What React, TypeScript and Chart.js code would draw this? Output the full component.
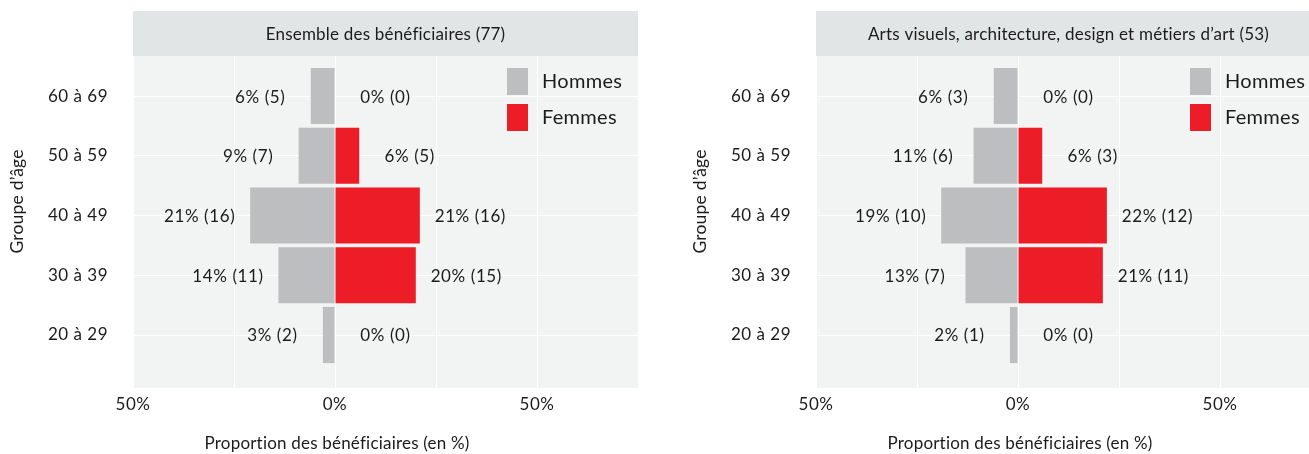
import React, { useEffect, useRef } from "react";
import { Chart, registerables } from "chart.js";

Chart.register(...registerables);

// ---------- data ----------
const ageGroups = ["60 à 69", "50 à 59", "40 à 49", "30 à 39", "20 à 29"];
const seriesNames = ["Hommes", "Femmes"];

const panel1Title = "Ensemble des bénéficiaires (77)";
const panel1HommesPct = [6, 9, 21, 14, 3];
const panel1HommesCount = [5, 7, 16, 11, 2];
const panel1FemmesPct = [0, 6, 21, 20, 0];
const panel1FemmesCount = [0, 5, 16, 15, 0];

const panel2Title = "Arts visuels, architecture, design et métiers d’art (53)";
const panel2HommesPct = [6, 11, 19, 13, 2];
const panel2HommesCount = [3, 6, 10, 7, 1];
const panel2FemmesPct = [0, 6, 22, 21, 0];
const panel2FemmesCount = [0, 3, 12, 11, 0];

const xLabeledTicks = [-50, 0, 50];
const xTitle = "Proportion des bénéficiaires (en %)";
const yTitle = "Groupe d’âge";

// ---------- style ----------
const FONT = "Lato, 'DejaVu Sans', sans-serif";
const TEXT = "#1b1b1b";
const PANEL_BG = "#F2F3F3";
const STRIP_BG = "#E2E5E5";
const GREY = "#BDBEC0";
const RED = "#EC1D27";
const COLORS = [GREY, RED];

type PanelProps = {
  title: string;
  hPct: number[];
  hCnt: number[];
  fPct: number[];
  fCnt: number[];
  left: number;
};

function Pyramid({ title, hPct, hCnt, fPct, fCnt, left }: PanelProps) {
  const ref = useRef<HTMLCanvasElement>(null);

  useEffect(() => {
    if (!ref.current) return;
    const n = ageGroups.length;
    const pos = (i: number) => n - i;
    const STRIP_TOP = 11;
    const LABEL_NUDGE = 12.5;

    const decor = {
      id: "decor",
      beforeDraw(chart: any) {
        const { ctx, chartArea: a } = chart;
        ctx.save();
        ctx.fillStyle = "#ffffff";
        ctx.fillRect(0, 0, chart.width, chart.height);
        ctx.fillStyle = PANEL_BG;
        ctx.fillRect(a.left, a.top, a.right - a.left, a.bottom - a.top);
        ctx.fillStyle = STRIP_BG;
        ctx.fillRect(a.left, STRIP_TOP, a.right - a.left, a.top - STRIP_TOP);
        ctx.fillStyle = TEXT;
        ctx.font = `17px ${FONT}`;
        ctx.letterSpacing = "0.2px";
        ctx.textAlign = "center";
        ctx.textBaseline = "middle";
        ctx.fillText(title, (a.left + a.right) / 2, (STRIP_TOP + a.top) / 2 + 1);
        ctx.restore();
        // slightly wider text for the axis tick labels drawn next
        ctx.letterSpacing = "0.5px";
      },
      afterDatasetsDraw(chart: any) {
        const { ctx } = chart;
        const xs = chart.scales.x;
        const ys = chart.scales.y;
        ctx.save();
        ctx.fillStyle = TEXT;
        ctx.font = `17px ${FONT}`;
        ctx.letterSpacing = "0.6px";
        ctx.textAlign = "center";
        ctx.textBaseline = "middle";
        const groups = [
          { pct: hPct, cnt: hCnt, sign: -1 },
          { pct: fPct, cnt: fCnt, sign: 1 },
        ];
        groups.forEach((g) => {
          g.pct.forEach((p, i) => {
            const x = xs.getPixelForValue(g.sign * (p + LABEL_NUDGE));
            const y = ys.getPixelForValue(pos(i));
            ctx.fillText(`${p}% (${g.cnt[i]})`, x, y + 1);
          });
        });
        ctx.restore();
      },
      afterDraw(chart: any) {
        const { ctx, chartArea: a } = chart;
        const xs = chart.scales.x;
        ctx.save();
        // legend
        const gx = xs.getPixelForValue(50);
        seriesNames.forEach((name, k) => {
          const top = a.top + 12 + k * 36;
          ctx.fillStyle = COLORS[k];
          ctx.fillRect(gx - 30, top, 21, 27);
          ctx.fillStyle = TEXT;
          ctx.font = `20px ${FONT}`;
          ctx.letterSpacing = "0.3px";
          ctx.textAlign = "left";
          ctx.textBaseline = "middle";
          ctx.fillText(name, gx + 5, top + 13.5);
        });
        // x title
        ctx.font = `17px ${FONT}`;
        ctx.letterSpacing = "0.2px";
        ctx.textAlign = "center";
        ctx.textBaseline = "middle";
        ctx.fillText(xTitle, xs.getPixelForValue(0) + 2, 444);
        // y title
        ctx.translate(17, (STRIP_TOP + a.bottom) / 2 + 2);
        ctx.rotate(-Math.PI / 2);
        ctx.font = `17.5px ${FONT}`;
        ctx.fillText(yTitle, 0, 0);
        ctx.restore();
        ctx.letterSpacing = "0px";
      },
    };

    const chart = new Chart(ref.current, {
      type: "bar",
      data: {
        datasets: [
          {
            label: seriesNames[0],
            data: hPct.map((v, i) => ({ x: -v, y: pos(i) })),
            backgroundColor: GREY,
            borderWidth: 0,
            grouped: false,
            barPercentage: 0.94,
            categoryPercentage: 1,
          },
          {
            label: seriesNames[1],
            data: fPct.map((v, i) => ({ x: v, y: pos(i) })),
            backgroundColor: RED,
            borderWidth: 0,
            grouped: false,
            barPercentage: 0.94,
            categoryPercentage: 1,
          },
        ] as any,
      },
      options: {
        indexAxis: "y",
        responsive: false,
        animation: false,
        events: [],
        devicePixelRatio: 1,
        layout: { padding: { left: 0, right: 22, top: 56, bottom: 0 } },
        plugins: { legend: { display: false }, tooltip: { enabled: false } },
        scales: {
          x: {
            type: "linear",
            min: -50,
            max: 75,
            grid: { color: "#ffffff", lineWidth: 1, drawTicks: false },
            border: { display: false },
            ticks: {
              stepSize: 25,
              autoSkip: false,
              maxRotation: 0,
              padding: 6,
              color: TEXT,
              font: { family: FONT, size: 17 },
              callback: (v: any) =>
                xLabeledTicks.includes(Number(v)) ? `${Math.abs(Number(v))}%` : "",
            },
            afterFit: (s: any) => {
              s.height = 66;
            },
          },
          y: {
            type: "linear",
            min: 1 - 0.887,
            max: n + 0.67,
            offset: false,
            grid: { color: "#ffffff", lineWidth: 1, drawTicks: false, offset: false },
            border: { display: false },
            ticks: {
              autoSkip: false,
              padding: 25,
              color: TEXT,
              font: { family: FONT, size: 17 },
              callback: (v: any) => ageGroups[n - Number(v)] ?? "",
            },
            afterBuildTicks: (s: any) => {
              s.ticks = ageGroups.map((_, i) => ({ value: pos(i) })).reverse();
            },
            afterFit: (s: any) => {
              s.width = 133;
            },
          },
        },
      } as any,
      plugins: [decor],
    });
    return () => chart.destroy();
  }, [title, hPct, hCnt, fPct, fCnt]);

  return (
    <canvas
      ref={ref}
      width={660}
      height={454}
      style={{ position: "absolute", left, top: 0, width: 660, height: 454, display: "block" }}
    />
  );
}

export default function App() {
  return (
    <div
      style={{
        position: "fixed",
        left: 0,
        top: 0,
        width: 1309,
        height: 454,
        overflow: "hidden",
        background: "#ffffff",
      }}
    >
      <Pyramid
        title={panel1Title}
        hPct={panel1HommesPct}
        hCnt={panel1HommesCount}
        fPct={panel1FemmesPct}
        fCnt={panel1FemmesCount}
        left={0}
      />
      <Pyramid
        title={panel2Title}
        hPct={panel2HommesPct}
        hCnt={panel2HommesCount}
        fPct={panel2FemmesPct}
        fCnt={panel2FemmesCount}
        left={683}
      />
    </div>
  );
}
